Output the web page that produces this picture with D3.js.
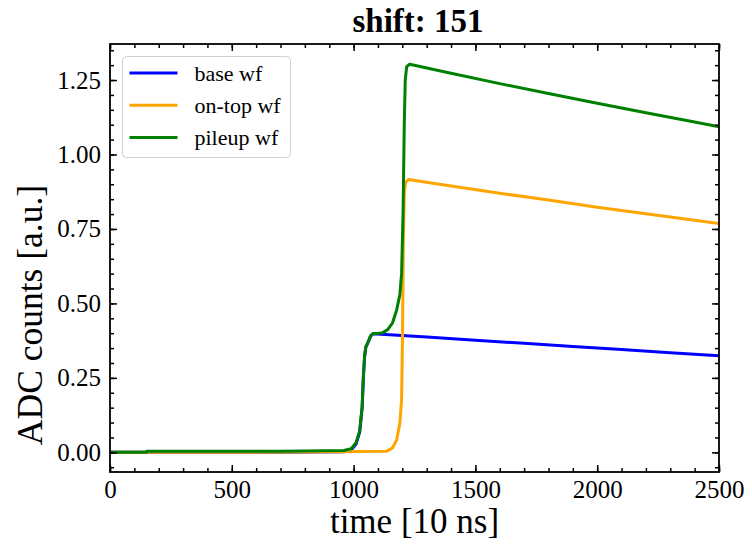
<!DOCTYPE html>
<html>
<head>
<meta charset="utf-8">
<script src="https://cdn.jsdelivr.net/npm/d3@7"></script>
<style>
  html, body { margin: 0; padding: 0; background: #fff; }
  svg { display: block; }
  text { font-family: "Liberation Serif", "Times New Roman", serif; fill: #000; }
</style>
</head>
<body>
<svg id="chart" width="752" height="545"></svg>
<script>
// Waveform samples: time [10 ns] and ADC counts [a.u.]
const baseT = [0, 150, 400, 700, 960, 990, 1010, 1025, 1035, 1040, 1045, 1050, 1060, 1070, 1080, 1300, 1500, 1700, 1900, 2100, 2300, 2500];
const baseV = [0.000, 0.000, 0.000, 0.000, 0.002, 0.008, 0.028, 0.068, 0.150, 0.250, 0.320, 0.352, 0.370, 0.390, 0.398, 0.387, 0.376, 0.366, 0.355, 0.345, 0.334, 0.324];

const ontopT = [0, 300, 600, 960, 1000, 1136, 1160, 1177, 1190, 1197, 1201, 1204, 1208, 1213, 1225, 1400, 1600, 1800, 2000, 2200, 2400, 2500];
const ontopV = [0.000, 0.000, 0.000, 0.002, 0.003, 0.004, 0.015, 0.042, 0.099, 0.176, 0.400, 0.700, 0.870, 0.905, 0.916, 0.894, 0.870, 0.847, 0.823, 0.801, 0.779, 0.768];

const pileupT = [0, 149, 151, 400, 700, 960, 990, 1010, 1025, 1035, 1040, 1045, 1050, 1060, 1070, 1080, 1100, 1120, 1140, 1160, 1177, 1190, 1197, 1203, 1208, 1212, 1218, 1230, 1400, 1600, 1800, 2000, 2200, 2400, 2500];
const pileupV = [0.000, 0.000, 0.004, 0.004, 0.004, 0.006, 0.012, 0.032, 0.072, 0.152, 0.252, 0.322, 0.354, 0.372, 0.392, 0.399, 0.399, 0.402, 0.412, 0.435, 0.479, 0.530, 0.600, 0.800, 1.100, 1.250, 1.295, 1.303, 1.273, 1.238, 1.205, 1.172, 1.140, 1.109, 1.093];

const seriesNames = ["base wf", "on-top wf", "pileup wf"];
const seriesColors = ["#0000ff", "#ffa500", "#008000"];

const xMajorTicks = [0, 500, 1000, 1500, 2000, 2500];
const yMajorTicks = [0.00, 0.25, 0.50, 0.75, 1.00, 1.25];
const chartTitle = "shift: 151";
const xLabel = "time [10 ns]";
const yLabel = "ADC counts [a.u.]";

const W = 752, H = 545;
const margin = { left: 110, right: 33, top: 44, bottom: 73 };
const iw = W - margin.left - margin.right;
const ih = H - margin.top - margin.bottom;

const svg = d3.select("#chart");
const g = svg.append("g").attr("transform", `translate(${margin.left},${margin.top})`);

const x = d3.scaleLinear().domain([0, 2500]).range([0, iw]);
const y = d3.scaleLinear().domain([-0.066, 1.371]).range([ih, 0]);

const xMinor = d3.range(0, 2501, 100);
const yMinor = d3.range(-0.05, 1.37, 0.05);

// Clip the traces to the axes box
g.append("clipPath").attr("id", "clip")
  .append("rect").attr("width", iw).attr("height", ih);

const series = [
  { t: baseT, v: baseV },
  { t: ontopT, v: ontopV },
  { t: pileupT, v: pileupV }
];

const line = d3.line().x(d => x(d[0])).y(d => y(d[1]));

const traces = g.append("g").attr("clip-path", "url(#clip)");
series.forEach((s, i) => {
  const pts = s.t.map((t, k) => [t, s.v[k]]);
  traces.append("path")
    .datum(pts)
    .attr("d", line)
    .attr("fill", "none")
    .attr("stroke", seriesColors[i])
    .attr("stroke-width", 3)
    .attr("stroke-linejoin", "round");
});

// Axes with inward ticks on all four sides
function styleAxis(sel) {
  sel.attr("font-family", "Liberation Serif").attr("font-size", 25);
  sel.select(".domain").remove();
  sel.selectAll(".tick line").attr("stroke", "#000").attr("stroke-width", 1.5);
  sel.selectAll("text").style("font-size", "25px");
}

const fmtY = d3.format(".2f");

g.append("g").attr("transform", `translate(0,${ih})`)
  .call(d3.axisBottom(x).tickValues(xMinor).tickSize(-4).tickFormat(""))
  .call(styleAxis);
g.append("g").attr("transform", `translate(0,${ih})`)
  .call(d3.axisBottom(x).tickValues(xMajorTicks).tickSize(-7).tickPadding(8).tickFormat(d3.format("d")))
  .call(styleAxis);
g.append("g")
  .call(d3.axisTop(x).tickValues(xMinor).tickSize(-4).tickFormat(""))
  .call(styleAxis);
g.append("g")
  .call(d3.axisTop(x).tickValues(xMajorTicks).tickSize(-7).tickFormat(""))
  .call(styleAxis);

g.append("g")
  .call(d3.axisLeft(y).tickValues(yMinor).tickSize(-4).tickFormat(""))
  .call(styleAxis);
g.append("g")
  .call(d3.axisLeft(y).tickValues(yMajorTicks).tickSize(-7).tickPadding(9).tickFormat(fmtY))
  .call(styleAxis);
g.append("g").attr("transform", `translate(${iw},0)`)
  .call(d3.axisRight(y).tickValues(yMinor).tickSize(-4).tickFormat(""))
  .call(styleAxis);
g.append("g").attr("transform", `translate(${iw},0)`)
  .call(d3.axisRight(y).tickValues(yMajorTicks).tickSize(-7).tickFormat(""))
  .call(styleAxis);

// Frame
g.append("rect")
  .attr("width", iw).attr("height", ih)
  .attr("fill", "none").attr("stroke", "#000").attr("stroke-width", 1.8);

// Title and axis labels
svg.append("text")
  .attr("x", 418).attr("y", 32)
  .attr("text-anchor", "middle")
  .style("font-size", "33px").style("font-weight", "bold")
  .text(chartTitle);

svg.append("text")
  .attr("x", margin.left + iw / 2).attr("y", 533)
  .attr("text-anchor", "middle")
  .style("font-size", "35px")
  .text(xLabel);

svg.append("text")
  .attr("transform", `translate(42,315) rotate(-90)`)
  .attr("text-anchor", "middle")
  .style("font-size", "35.5px")
  .text(yLabel);

// Legend
const lg = svg.append("g").attr("transform", "translate(122.5,56.5)");
lg.append("rect")
  .attr("width", 168).attr("height", 101)
  .attr("rx", 4).attr("ry", 4)
  .attr("fill", "#fff").attr("fill-opacity", 0.8)
  .attr("stroke", "#d0d0d0").attr("stroke-width", 1);
seriesNames.forEach((name, i) => {
  const cy = 16.5 + i * 32.3;
  lg.append("line")
    .attr("x1", 7).attr("x2", 55)
    .attr("y1", cy).attr("y2", cy)
    .attr("stroke", seriesColors[i]).attr("stroke-width", 3);
  lg.append("text")
    .attr("x", 72).attr("y", cy)
    .attr("dy", "0.35em")
    .style("font-size", "22px")
    .text(name);
});
</script>
</body>
</html>
